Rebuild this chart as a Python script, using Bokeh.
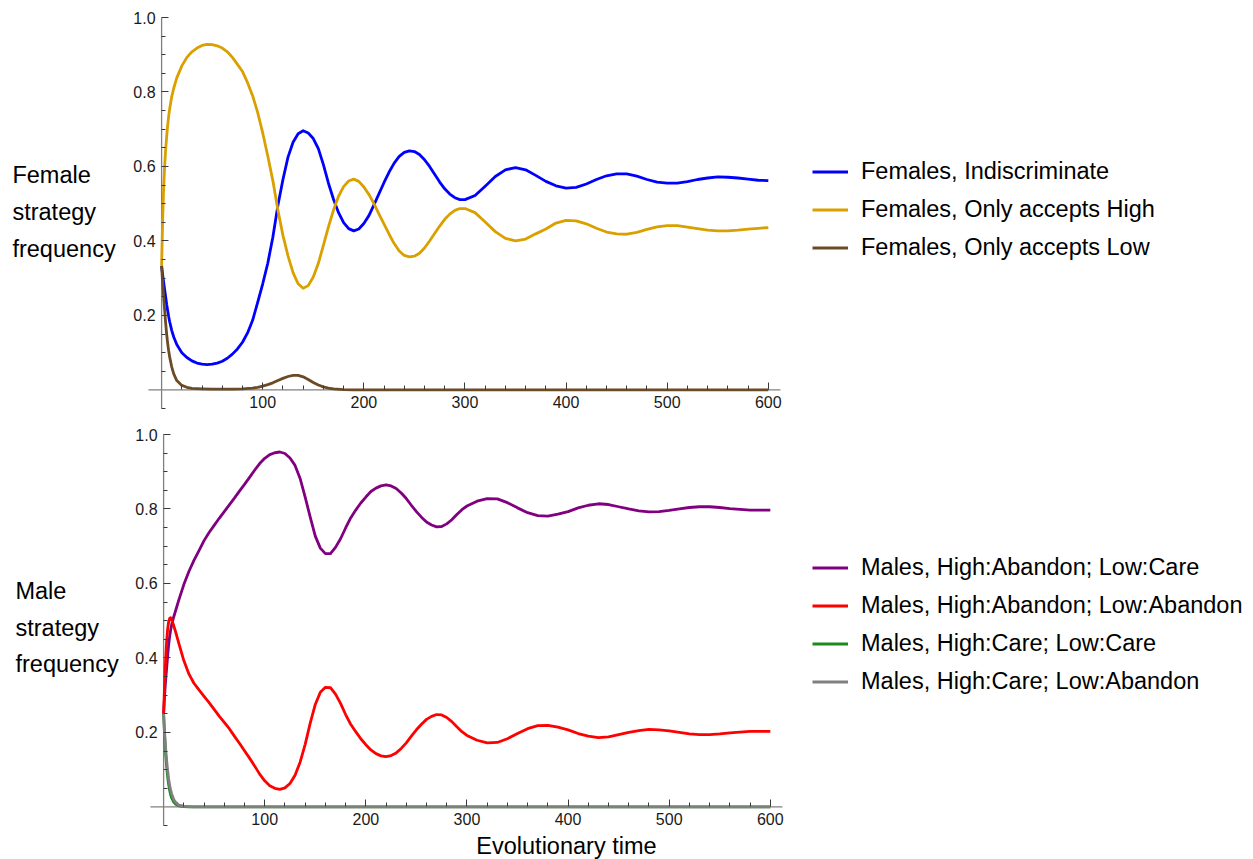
from bokeh.plotting import figure
from bokeh.models import (LinearAxis, FixedTicker, PrintfTickFormatter, Range1d,
                          Legend, LegendItem, Label, Grid)
from bokeh.layouts import column
from bokeh.embed import file_html
from bokeh.resources import INLINE

FONT = "Liberation Sans"

# Sampling times of the replicator dynamics (shared by the main series)
t_grid = [0, 1, 2, 3, 4, 5, 6, 7, 8, 10, 12, 15, 20,
          25, 30, 35, 40, 45, 50, 55, 60, 65, 70, 75, 80, 85, 90, 95, 100,
          105, 110, 115, 120, 125, 130, 135, 140, 145, 150, 155, 160, 165, 170, 175, 180, 185, 190, 195, 200,
          205, 210, 215, 220, 225, 230, 235, 240, 245, 250, 255, 260, 265, 270, 275, 280, 285, 290, 295, 300,
          310, 320, 330, 340, 350, 360, 370, 380, 390, 400, 410, 420, 430, 440, 450, 460, 470, 480, 490, 500,
          510, 520, 530, 540, 550, 560, 570, 580, 590, 600]

# Female strategies
female_indiscriminate = [
    0.333, 0.31, 0.29, 0.27, 0.25, 0.23, 0.213, 0.197, 0.183, 0.16, 0.142, 0.122, 0.1,
    0.087, 0.078, 0.072, 0.069, 0.068, 0.069, 0.072, 0.077, 0.085, 0.096, 0.11, 0.128, 0.153, 0.187, 0.235, 0.285,
    0.34, 0.41, 0.495, 0.565, 0.625, 0.665, 0.688, 0.696, 0.69, 0.675, 0.648, 0.605, 0.555, 0.512, 0.476, 0.449, 0.433, 0.427, 0.432, 0.447,
    0.468, 0.497, 0.527, 0.557, 0.585, 0.609, 0.627, 0.638, 0.642, 0.64, 0.632, 0.618, 0.6, 0.579, 0.558, 0.54, 0.526, 0.516, 0.511, 0.511,
    0.522, 0.547, 0.573, 0.591, 0.597, 0.591, 0.576, 0.56, 0.548, 0.542, 0.544, 0.553, 0.565, 0.575, 0.58, 0.58, 0.574, 0.565, 0.558, 0.555,
    0.555, 0.559, 0.565, 0.569, 0.572, 0.571, 0.569, 0.566, 0.563, 0.562]

female_only_high = [
    0.333, 0.45, 0.54, 0.60, 0.645, 0.68, 0.71, 0.735, 0.755, 0.787, 0.81, 0.838, 0.87,
    0.893, 0.908, 0.918, 0.925, 0.928, 0.927, 0.924, 0.918, 0.908, 0.893, 0.874, 0.855, 0.825, 0.79, 0.745, 0.69,
    0.628, 0.562, 0.483, 0.415, 0.36, 0.315, 0.285, 0.273, 0.28, 0.303, 0.34, 0.388, 0.438, 0.483, 0.52, 0.546, 0.561, 0.566, 0.56, 0.545,
    0.525, 0.5, 0.472, 0.445, 0.418, 0.393, 0.373, 0.361, 0.357, 0.359, 0.367, 0.381, 0.4, 0.42, 0.44, 0.458, 0.472, 0.482, 0.487, 0.487,
    0.476, 0.451, 0.425, 0.407, 0.4, 0.405, 0.419, 0.432, 0.448, 0.455, 0.454, 0.446, 0.434, 0.424, 0.419, 0.418, 0.423, 0.431, 0.438, 0.441,
    0.441, 0.437, 0.433, 0.429, 0.427, 0.427, 0.429, 0.432, 0.434, 0.436]

t_low = [0, 1, 2, 3, 4, 5, 6, 7, 8, 10, 12, 15, 20, 25, 30, 40, 50, 60, 70, 80, 90,
         95, 100, 105, 110, 115, 120, 125, 130, 135, 140, 145, 150, 155, 160, 165, 170, 180, 190, 600]
female_only_low = [0.333, 0.29, 0.25, 0.215, 0.18, 0.15, 0.125, 0.105, 0.088, 0.062, 0.043, 0.025, 0.012,
                   0.007, 0.004, 0.003, 0.002, 0.002, 0.002, 0.003, 0.005,
                   0.007, 0.01, 0.014, 0.019, 0.025, 0.031, 0.036, 0.039, 0.039, 0.035, 0.028, 0.02, 0.013,
                   0.008, 0.005, 0.003, 0.001, 0.0, 0.0]

# Male strategies
male_abandon_care = [
    0.25, 0.3, 0.34, 0.372, 0.405, 0.435, 0.458, 0.475, 0.49, 0.51, 0.528, 0.555, 0.597,
    0.632, 0.662, 0.688, 0.715, 0.737, 0.756, 0.775, 0.793, 0.811, 0.829, 0.848, 0.866, 0.885, 0.904, 0.922, 0.936,
    0.946, 0.951, 0.953, 0.949, 0.937, 0.917, 0.882, 0.832, 0.778, 0.727, 0.695, 0.68, 0.68, 0.697, 0.72, 0.749, 0.776, 0.797, 0.816, 0.832,
    0.847, 0.856, 0.862, 0.865, 0.862, 0.855, 0.843, 0.828, 0.81, 0.793, 0.778, 0.765, 0.757, 0.752, 0.753, 0.76, 0.771, 0.785, 0.798, 0.808,
    0.821, 0.828, 0.827, 0.817, 0.803, 0.79, 0.782, 0.781, 0.786, 0.793, 0.803, 0.81, 0.814, 0.812, 0.806, 0.8, 0.795, 0.792, 0.793, 0.796,
    0.8, 0.804, 0.806, 0.806, 0.804, 0.801, 0.799, 0.797, 0.797, 0.797]

male_abandon_abandon = [
    0.25, 0.33, 0.395, 0.445, 0.478, 0.497, 0.506, 0.508, 0.503, 0.487, 0.469, 0.44, 0.393,
    0.357, 0.332, 0.314, 0.297, 0.28, 0.262, 0.244, 0.227, 0.21, 0.19, 0.171, 0.151, 0.131, 0.11, 0.088, 0.07,
    0.057, 0.05, 0.047, 0.051, 0.063, 0.085, 0.12, 0.168, 0.225, 0.275, 0.308, 0.321, 0.32, 0.303, 0.278, 0.248, 0.222, 0.202, 0.183, 0.167,
    0.153, 0.143, 0.137, 0.135, 0.138, 0.145, 0.157, 0.172, 0.19, 0.207, 0.222, 0.235, 0.243, 0.248, 0.247, 0.24, 0.229, 0.215, 0.202, 0.192,
    0.179, 0.172, 0.173, 0.183, 0.197, 0.21, 0.218, 0.219, 0.214, 0.207, 0.197, 0.19, 0.186, 0.188, 0.194, 0.2, 0.205, 0.208, 0.207, 0.204,
    0.2, 0.196, 0.194, 0.194, 0.196, 0.199, 0.201, 0.203, 0.203, 0.203]

t_care = [0, 1, 2, 3, 4, 5, 6, 7, 8, 10, 12, 15, 20, 25, 30, 600]
male_care_care = [0.25, 0.19, 0.143, 0.108, 0.08, 0.06, 0.044, 0.032, 0.024, 0.013, 0.007, 0.003, 0.001, 0.0, 0.0, 0.0]
male_care_abandon = [0.25, 0.2, 0.158, 0.125, 0.097, 0.075, 0.058, 0.045, 0.035, 0.02, 0.012, 0.005, 0.002, 0.001, 0.0, 0.0]

# Ticks
x_major = [100, 200, 300, 400, 500, 600]
x_minor = [20, 40, 60, 80, 120, 140, 160, 180, 220, 240, 260, 280, 320, 340, 360, 380,
           420, 440, 460, 480, 520, 540, 560, 580]
y_major = [0.2, 0.4, 0.6, 0.8, 1.0]
y_minor = [-0.05, 0.05, 0.1, 0.15, 0.25, 0.3, 0.35, 0.45, 0.5, 0.55, 0.65, 0.7, 0.75, 0.85, 0.9, 0.95]

# Extents of the drawn axis lines (Mathematica-style axes crossing at the origin)
x_axis_span = [-13, 612]
y_axis_span = [-0.05, 1.0]

W = 1253
PX_PER_T = 632 / 625      # horizontal pixels per unit of time
PX_PER_F = 372.4          # vertical pixels per unit of frequency


def style_axis(ax):
    ax.axis_line_color = None
    ax.major_tick_line_color = "#3a3a3a"
    ax.minor_tick_line_color = "#3a3a3a"
    ax.major_tick_in = 7
    ax.major_tick_out = 0
    ax.minor_tick_in = 4
    ax.minor_tick_out = 0
    ax.major_label_text_font = FONT
    ax.major_label_text_font_size = "16px"
    ax.major_label_text_color = "#1a1a1a"
    ax.major_label_standoff = 6


def make_panel(height, origin_x, origin_y):
    # the frame fills the whole canvas; origin_x/origin_y give where (0, 0) sits
    x_range = Range1d(-origin_x / PX_PER_T, (W - origin_x) / PX_PER_T)
    y_range = Range1d((origin_y - height) / PX_PER_F, origin_y / PX_PER_F)
    p = figure(width=W, height=height, x_range=x_range, y_range=y_range,
               output_backend="svg", toolbar_location=None,
               x_axis_location=None, y_axis_location=None,
               min_border=0, min_border_left=0, min_border_right=0,
               min_border_top=0, min_border_bottom=0)
    p.outline_line_color = None
    p.background_fill_color = "white"
    p.border_fill_color = "white"
    for g in p.select(type=Grid):
        g.visible = False

    xa = LinearAxis(fixed_location=0, ticker=FixedTicker(ticks=x_major, minor_ticks=x_minor),
                    formatter=PrintfTickFormatter(format="%d"))
    ya = LinearAxis(fixed_location=0, ticker=FixedTicker(ticks=y_major, minor_ticks=y_minor),
                    formatter=PrintfTickFormatter(format="%.1f"))
    style_axis(xa)
    style_axis(ya)
    p.add_layout(xa, "below")
    p.add_layout(ya, "left")

    p.line(x_axis_span, [0, 0], line_color="#808080", line_width=1.3)
    p.line([0, 0], y_axis_span, line_color="#808080", line_width=1.3)
    return p


def side_label(p, x, ys, lines):
    for y, txt in zip(ys, lines):
        p.add_layout(Label(x=x, y=y, text=txt, text_font=FONT, text_font_size="23.5px",
                           text_color="black", text_align="left", text_baseline="alphabetic"))


def legend_for(p, entries, loc):
    items = [LegendItem(label=name, renderers=[r]) for name, r in entries]
    lg = Legend(items=items, location=loc, orientation="vertical",
                label_text_font=FONT, label_text_font_size="23.5px", label_text_color="black",
                label_text_baseline="middle",
                glyph_width=36, glyph_height=27, label_height=27, label_standoff=13,
                spacing=11, padding=0, margin=0,
                border_line_color=None, background_fill_alpha=0)
    p.add_layout(lg, "center")


LW = 2.8

# ---- Female panel ----
top = make_panel(424, 161.1, 389.4)
r_ind = top.line(t_grid, female_indiscriminate, line_color="#0000FF", line_width=LW, line_join="round")
r_hi = top.line(t_grid, female_only_high, line_color="#DAA000", line_width=LW, line_join="round")
r_lo = top.line(t_low, female_only_low, line_color="#6B4A26", line_width=LW, line_join="round")
legend_for(top, [("Females, Indiscriminate", r_ind),
                 ("Females, Only accepts High", r_hi),
                 ("Females, Only accepts Low", r_lo)], (812, 163.5))
side_label(top, -147.5, [0.5765, 0.4777, 0.3784], ["Female", "strategy", "frequency"])

# ---- Male panel ----
bot = make_panel(435, 163.1, 382.4)
r_ac = bot.line(t_grid, male_abandon_care, line_color="#800080", line_width=LW, line_join="round")
r_aa = bot.line(t_grid, male_abandon_abandon, line_color="#FF0000", line_width=LW, line_join="round")
r_cc = bot.line(t_care, male_care_care, line_color="#1A8A1A", line_width=LW, line_join="round")
r_ca = bot.line(t_care, male_care_abandon, line_color="#808080", line_width=LW, line_join="round")
legend_for(bot, [("Males, High:Abandon; Low:Care", r_ac),
                 ("Males, High:Abandon; Low:Abandon", r_aa),
                 ("Males, High:Care; Low:Care", r_cc),
                 ("Males, High:Care; Low:Abandon", r_ca)], (812, 164))
side_label(bot, -146.5, [0.5797, 0.4804, 0.3837], ["Male", "strategy", "frequency"])
bot.add_layout(Label(x=398.4, y=-0.1063, text="Evolutionary time", text_font=FONT,
                     text_font_size="23.5px", text_color="black",
                     text_align="center", text_baseline="alphabetic"))

layout = column(top, bot, spacing=0)
open("out.html", "w").write(file_html(layout, INLINE))
